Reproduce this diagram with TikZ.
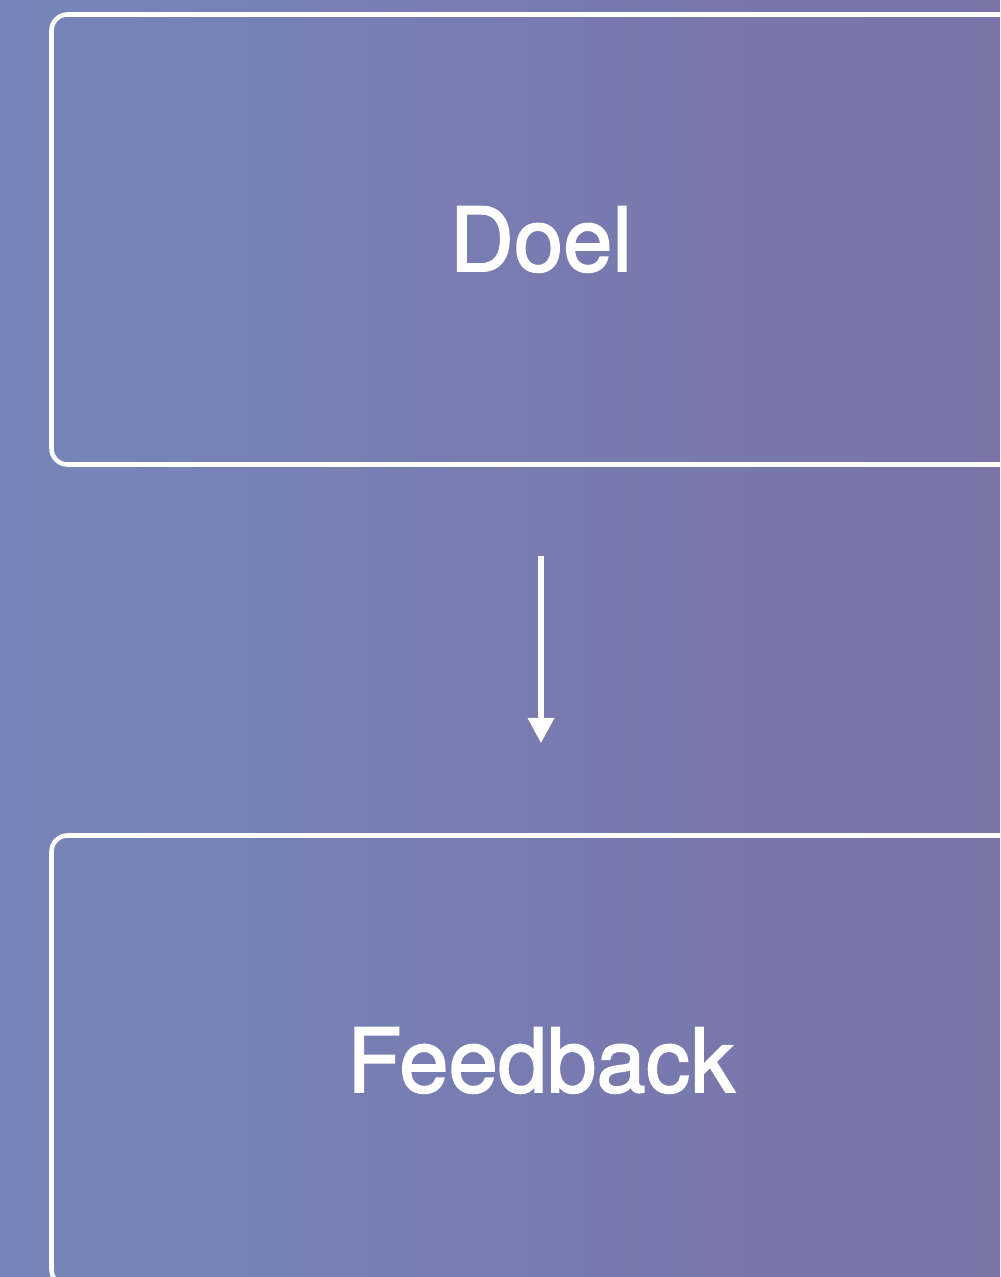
\documentclass[tikz,border=0pt]{standalone}
\usepackage{fontspec}
\setmainfont{TeX Gyre Heros}
\newfontfamily\labelfont[FakeBold=1.8]{TeX Gyre Heros}
\usetikzlibrary{arrows.meta}
\definecolor{bgleft}{RGB}{118,133,185}
\definecolor{bgright}{RGB}{121,115,168}
\tikzset{
  stagebox/.style={draw=white, line width=3.4pt, rounded corners=12pt,
    minimum width=734.25pt, minimum height=337.5pt, text=white,
    font=\labelfont\fontsize{66.5pt}{72pt}\selectfont},
  flowarrow/.style={draw=white, line width=4.2pt,
    -{Triangle[width=19pt,length=19pt]}, shorten <=67pt, shorten >=67.5pt}
}
\begin{document}
\begin{tikzpicture}[x=0.75pt,y=-0.75pt]
  % background with horizontal gradient
  \shade[left color=bgleft, right color=bgright] (0,0) rectangle (1000,1277);
  \useasboundingbox (0,0) rectangle (1000,1277);
  \begin{scope}
    \clip (0,0) rectangle (1000,1277);
    \node[stagebox] (doel) at (541,239.5) {Doel};
    \node[stagebox] (feedback) at (541,1060.5) {Feedback};
    \draw[flowarrow] (doel) -- (feedback);
  \end{scope}
\end{tikzpicture}
\end{document}
